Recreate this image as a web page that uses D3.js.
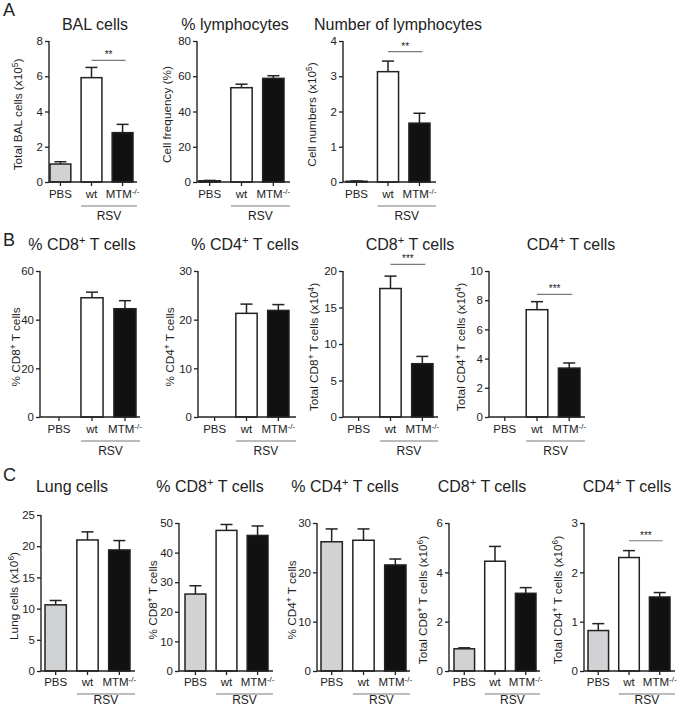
<!DOCTYPE html>
<html><head><meta charset="utf-8">
<script src="https://cdn.jsdelivr.net/npm/d3@7"></script>
<style>
body{margin:0;background:#fff}
svg{display:block}
text{font-family:"Liberation Sans",Arial,Helvetica,sans-serif;fill:#222}
</style>
</head><body>
<svg id="c" width="700" height="707"></svg>
<script>
// ---------------- DATA ----------------
const categories = ["PBS", "wt", "MTM^{-/-}"];
const groupLabel = "RSV";

const titles = ["BAL cells", "% lymphocytes", "Number of lymphocytes",
  "% CD8^{+} T cells", "% CD4^{+} T cells", "CD8^{+} T cells", "CD4^{+} T cells",
  "Lung cells", "% CD8^{+} T cells", "% CD4^{+} T cells", "CD8^{+} T cells", "CD4^{+} T cells"];

const yLabels = ["Total BAL cells (x10^{5})", "Cell frequency (%)", "Cell numbers (x10^{5})",
  "% CD8^{+} T cells", "% CD4^{+} T cells", "Total CD8^{+} T cells (x10^{4})", "Total CD4^{+} T cells (x10^{4})",
  "Lung cells (x10^{6})", "% CD8^{+} T cells", "% CD4^{+} T cells", "Total CD8^{+} T cells (x10^{6})", "Total CD4^{+} T cells (x10^{6})"];

// means (PBS, wt, MTM-/-)
const balCells      = [1.02, 5.92, 2.80];
const lymphPct      = [0.7, 53.5, 58.8];
const lymphNum      = [0.02, 3.13, 1.67];
const balCd8Pct     = [0, 49.0, 44.5];
const balCd4Pct     = [0, 21.3, 21.9];
const balCd8Num     = [0, 17.6, 7.3];
const balCd4Num     = [0, 7.35, 3.35];
const lungCells     = [10.6, 21.0, 19.4];
const lungCd8Pct    = [26.0, 47.5, 45.8];
const lungCd4Pct    = [26.2, 26.5, 21.5];
const lungCd8Num    = [0.90, 4.45, 3.15];
const lungCd4Num    = [0.82, 2.30, 1.50];

// SEM
const balCellsErr   = [0.13, 0.58, 0.47];
const lymphPctErr   = [0.2, 2.0, 1.5];
const lymphNumErr   = [0.01, 0.30, 0.28];
const balCd8PctErr  = [0, 2.3, 3.3];
const balCd4PctErr  = [0, 1.9, 1.2];
const balCd8NumErr  = [0, 1.7, 1.0];
const balCd4NumErr  = [0, 0.55, 0.35];
const lungCellsErr  = [0.7, 1.3, 1.5];
const lungCd8PctErr = [2.8, 2.0, 3.2];
const lungCd4PctErr = [2.6, 2.3, 1.2];
const lungCd8NumErr = [0.04, 0.60, 0.23];
const lungCd4NumErr = [0.14, 0.14, 0.09];

// y axis ticks
const ticksA1 = [0, 2, 4, 6, 8];
const ticksA2 = [0, 20, 40, 60, 80];
const ticksA3 = [0, 1, 2, 3, 4];
const ticksB1 = [0, 20, 40, 60];
const ticksB2 = [0, 10, 20, 30];
const ticksB3 = [0, 5, 10, 15, 20];
const ticksB4 = [0, 2, 4, 6, 8, 10];
const ticksC1 = [0, 5, 10, 15, 20, 25];
const ticksC2 = [0, 10, 20, 30, 40, 50];
const ticksC3 = [0, 10, 20, 30];
const ticksC4 = [0, 2, 4, 6];
const ticksC5 = [0, 1, 2, 3];

// significance (wt vs MTM-/-): stars and bracket level in data units
const sigA1 = {stars: "**", level: 6.9};
const sigA3 = {stars: "**", level: 3.7};
const sigB3 = {stars: "***", level: 20.9};
const sigB4 = {stars: "***", level: 8.4};
const sigC5 = {stars: "***", level: 2.64};

const panelLetters = ["A", "B", "C"];

// ---------------- LAYOUT ----------------
const rowA = {yTop: 41, yBot: 182, titleY: 30, lblDy: 16, lineDy: 24, rsvDy: 38};
const rowB = {yTop: 271, yBot: 417, titleY: 250, lblDy: 16, lineDy: 24, rsvDy: 38};
const rowC = {yTop: 523, yBot: 671, titleY: 492, lblDy: 15, lineDy: 23, rsvDy: 32.5};

const panels = [
  {row: rowA, v: balCells,   e: balCellsErr,   ticks: ticksA1, ax: 49,  axEnd: 137, bx: [50, 133],  tx: 95,  lx: 18,  sig: sigA1},
  {row: rowA, v: lymphPct,   e: lymphPctErr,   ticks: ticksA2, ax: 197, axEnd: 290, bx: [199, 284], tx: 235, lx: 167},
  {row: rowA, v: lymphNum,   e: lymphNumErr,   ticks: ticksA3, ax: 343, axEnd: 436, bx: [346, 430], tx: 398, lx: 312, sig: sigA3},
  {row: rowB, v: balCd8Pct,  e: balCd8PctErr,  ticks: ticksB1, ax: 40,  axEnd: 140, bx: [48, 136],  tx: 82,  lx: 16},
  {row: rowB, v: balCd4Pct,  e: balCd4PctErr,  ticks: ticksB2, ax: 198, axEnd: 296, bx: [204, 289], tx: 245, lx: 170},
  {row: rowB, v: balCd8Num,  e: balCd8NumErr,  ticks: ticksB3, ax: 343, axEnd: 438, bx: [348, 433], tx: 410, lx: 314},
  {row: rowB, v: balCd4Num,  e: balCd4NumErr,  ticks: ticksB4, ax: 489, axEnd: 585, bx: [494, 580], tx: 571, lx: 461, sig: sigB4},
  {row: rowC, v: lungCells,  e: lungCellsErr,  ticks: ticksC1, ax: 41,  axEnd: 135, bx: [45, 130],  tx: 72,  lx: 14, yTop: 515},
  {row: rowC, v: lungCd8Pct, e: lungCd8PctErr, ticks: ticksC2, ax: 179, axEnd: 273, bx: [185, 268], tx: 210, lx: 153},
  {row: rowC, v: lungCd4Pct, e: lungCd4PctErr, ticks: ticksC3, ax: 317, axEnd: 410, bx: [321, 406], tx: 345, lx: 292},
  {row: rowC, v: lungCd8Num, e: lungCd8NumErr, ticks: ticksC4, ax: 449, axEnd: 540, bx: [454, 536], tx: 482, lx: 423},
  {row: rowC, v: lungCd4Num, e: lungCd4NumErr, ticks: ticksC5, ax: 584, axEnd: 675, bx: [588, 670], tx: 627, lx: 558, sig: sigC5}
];
panels[5].sig = sigB3;

const fills = ["#d1d2d4", "#ffffff", "#111111"];
const ink = "#222";
const grey = "#7a7a7a";
const letterPos = [{x: 3, y: 16}, {x: 3, y: 246}, {x: 3, y: 481}];

// ---------------- HELPERS ----------------
function rich(textSel, str, size) {
  textSel.attr("font-size", size);
  const parts = str.split(/(\^\{[^}]*\})/).filter(s => s.length);
  let shifted = false;
  parts.forEach(p => {
    const m = p.match(/^\^\{([^}]*)\}$/);
    if (m) {
      textSel.append("tspan").attr("font-size", size * 0.7).attr("dy", -size * 0.38).text(m[1]);
      shifted = true;
    } else {
      const t = textSel.append("tspan").attr("font-size", size).text(p);
      if (shifted) { t.attr("dy", size * 0.38); shifted = false; }
    }
  });
}

const svg = d3.select("#c");

panelLetters.forEach((L, i) => {
  svg.append("text").attr("x", letterPos[i].x).attr("y", letterPos[i].y)
    .attr("font-size", 18).text(L);
});

panels.forEach((p, i) => {
  const yTop = p.yTop !== undefined ? p.yTop : p.row.yTop;
  const yBot = p.row.yBot;
  const dom = [p.ticks[0], p.ticks[p.ticks.length - 1]];
  const y = d3.scaleLinear().domain(dom).range([yBot, yTop]);
  const x = d3.scaleBand().domain(categories).range(p.bx).paddingInner(0.33).paddingOuter(0);
  const g = svg.append("g");

  // title
  const t = g.append("text").attr("x", p.tx).attr("y", p.row.titleY).attr("text-anchor", "middle");
  rich(t, titles[i], 16);

  // bars
  const rows = categories.map((c, k) => ({c, v: p.v[k], e: p.e[k], f: fills[k]}));
  rows.forEach(d => {
    const x0 = x(d.c), w = x.bandwidth(), cx = x0 + w / 2;
    if (d.e > 0) {
      const yt = y(d.v + d.e);
      g.append("line").attr("x1", cx).attr("x2", cx).attr("y1", y(d.v)).attr("y2", yt)
        .attr("stroke", ink).attr("stroke-width", 1.5);
      g.append("line").attr("x1", cx - 6).attr("x2", cx + 6).attr("y1", yt).attr("y2", yt)
        .attr("stroke", ink).attr("stroke-width", 1.5);
    }
    if (d.v > 0) {
      g.append("rect").attr("x", x0).attr("width", w)
        .attr("y", y(d.v)).attr("height", Math.max(0, y(0) - y(d.v)))
        .attr("fill", d.f).attr("stroke", ink).attr("stroke-width", 1.5);
    }
  });

  // y axis
  const yAxis = d3.axisLeft(y).tickValues(p.ticks).tickSize(4).tickPadding(2).tickFormat(d3.format("d"));
  const ya = g.append("g").attr("transform", `translate(${p.ax},0)`).call(yAxis);
  ya.attr("font-size", 11.5);
  ya.select(".domain").attr("stroke", ink).attr("stroke-width", 1.4).attr("d", `M0,${yTop}V${yBot}`);
  ya.selectAll(".tick line").attr("stroke", ink).attr("stroke-width", 1.3);
  ya.selectAll(".tick text").attr("font-size", 11.5).attr("fill", ink)
    .style("font-family", '"Liberation Sans",Arial,sans-serif');

  // x axis line with ticks under bar centres
  g.append("line").attr("x1", p.ax).attr("x2", p.axEnd).attr("y1", yBot).attr("y2", yBot)
    .attr("stroke", ink).attr("stroke-width", 1.4);
  categories.forEach(c => {
    const cx = x(c) + x.bandwidth() / 2;
    g.append("line").attr("x1", cx).attr("x2", cx).attr("y1", yBot).attr("y2", yBot + 4)
      .attr("stroke", ink).attr("stroke-width", 1.3);
    const lt = g.append("text").attr("x", cx).attr("y", yBot + p.row.lblDy).attr("text-anchor", "middle");
    rich(lt, c, 11.5);
  });

  // RSV group
  const gx0 = x(categories[1]);
  g.append("line").attr("x1", gx0).attr("x2", p.axEnd).attr("y1", yBot + p.row.lineDy).attr("y2", yBot + p.row.lineDy)
    .attr("stroke", grey).attr("stroke-width", 1.2);
  g.append("text").attr("x", (gx0 + p.axEnd) / 2).attr("y", yBot + p.row.rsvDy)
    .attr("text-anchor", "middle").attr("font-size", 12).text(groupLabel);

  // y label
  const yl = g.append("text").attr("text-anchor", "middle")
    .attr("transform", `translate(${p.lx},${(yTop + yBot) / 2 + 3}) rotate(-90)`).attr("dy", "0.35em");
  rich(yl, yLabels[i], 11.8);

  // significance
  if (p.sig) {
    const c1 = x(categories[1]) + x.bandwidth() / 2;
    const c2 = x(categories[2]) + x.bandwidth() / 2 + 3;
    const sy = y(p.sig.level);
    g.append("line").attr("x1", c1).attr("x2", c2).attr("y1", sy).attr("y2", sy)
      .attr("stroke", grey).attr("stroke-width", 1.2);
    g.append("text").attr("x", (c1 + c2) / 2).attr("y", sy - 2).attr("text-anchor", "middle")
      .attr("font-size", 10).text(p.sig.stars);
  }
});
</script>
</body></html>
